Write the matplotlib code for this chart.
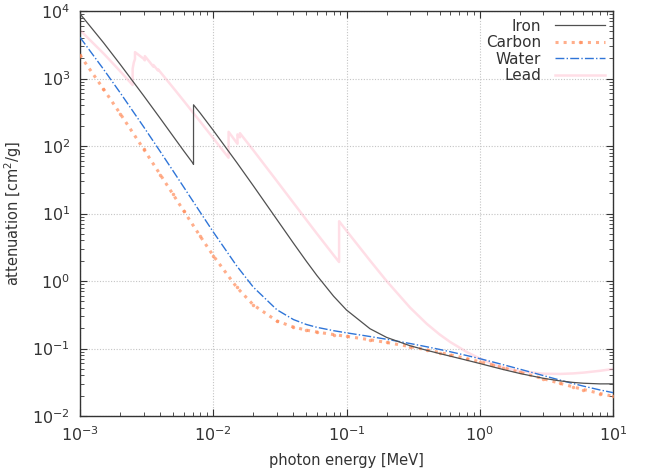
import matplotlib
matplotlib.use("Agg")
import matplotlib.pyplot as plt
from matplotlib.ticker import LogLocator, NullFormatter

# Mass attenuation coefficients [cm^2/g] vs photon energy [MeV] ------------------------------
ironE = [1e-3, 1.5e-3, 2e-3, 3e-3, 4e-3, 5e-3, 6e-3, 7e-3, 7.112e-3, 7.112e-3, 8e-3, 1e-2,
         1.5e-2, 2e-2, 3e-2, 4e-2, 5e-2, 6e-2, 8e-2, 0.1, 0.15, 0.2, 0.3, 0.4, 0.5, 0.6,
         0.8, 1.0, 1.25, 1.5, 2.0, 3.0, 4.0, 5.0, 6.0, 8.0, 10.0]
ironMu = [9085, 3399, 1626, 557.6, 256.7, 139.5, 84.84, 56.38, 53.3, 407.6, 305.6, 170.6,
          57.08, 25.68, 8.176, 3.629, 1.958, 1.205, 0.5952, 0.3717, 0.1964, 0.146, 0.1099,
          0.094, 0.08414, 0.07704, 0.06699, 0.05995, 0.0535, 0.04883, 0.04265, 0.03621,
          0.03312, 0.03146, 0.03057, 0.02991, 0.02994]

commonE = [1e-3, 1.5e-3, 2e-3, 3e-3, 4e-3, 5e-3, 6e-3, 8e-3, 1e-2, 1.5e-2, 2e-2, 3e-2,
           4e-2, 5e-2, 6e-2, 8e-2, 0.1, 0.15, 0.2, 0.3, 0.4, 0.5, 0.6, 0.8, 1.0, 1.25,
           1.5, 2.0, 3.0, 4.0, 5.0, 6.0, 8.0, 10.0]
carbonMu = [2211, 700.2, 302.6, 90.33, 37.78, 19.12, 10.95, 4.576, 2.373, 0.8071, 0.442,
            0.2562, 0.2076, 0.1871, 0.1753, 0.161, 0.1514, 0.1347, 0.1229, 0.1066, 0.09546,
            0.08715, 0.08058, 0.07076, 0.06361, 0.0569, 0.05179, 0.04442, 0.03562, 0.03047,
            0.02708, 0.02469, 0.02154, 0.01959]
waterMu = [4078, 1376, 617.3, 192.9, 82.78, 42.58, 24.64, 10.37, 5.329, 1.673, 0.8096,
           0.3756, 0.2683, 0.2269, 0.2059, 0.1837, 0.1707, 0.1505, 0.137, 0.1186, 0.1061,
           0.09687, 0.08956, 0.07865, 0.07072, 0.06323, 0.05754, 0.04942, 0.03969, 0.03403,
           0.03031, 0.0277, 0.02429, 0.02219]

leadE = [1e-3, 1.5e-3, 2e-3, 2.484e-3, 2.484e-3, 2.534e-3, 2.586e-3, 2.586e-3, 3e-3,
         3.066e-3, 3.066e-3, 3.301e-3, 3.554e-3, 3.554e-3, 3.699e-3, 3.851e-3, 3.851e-3,
         4e-3, 5e-3, 6e-3, 8e-3, 1e-2, 1.3035e-2, 1.3035e-2, 1.5e-2, 1.52e-2, 1.52e-2,
         1.553e-2, 1.586e-2, 1.586e-2, 2e-2, 3e-2, 4e-2, 5e-2, 6e-2, 8e-2, 8.8e-2, 8.8e-2,
         0.1, 0.15, 0.2, 0.3, 0.4, 0.5, 0.6, 0.8, 1.0, 1.25, 1.5, 2.0, 3.0, 4.0, 5.0, 6.0,
         8.0, 10.0]
leadMu = [5210, 2356, 1285, 800.6, 1397, 1726, 1944, 2458, 1965, 1857, 2146, 1796, 1496,
          1585, 1442, 1311, 1368, 1251, 730.4, 467.2, 228.7, 130.6, 67.01, 162.1, 111.6,
          107.8, 148.5, 141.6, 134.4, 154.8, 86.36, 30.32, 14.36, 8.041, 5.021, 2.419, 1.91,
          7.683, 5.549, 2.014, 0.9985, 0.4031, 0.2323, 0.1614, 0.1248, 0.0887, 0.07102,
          0.05876, 0.05222, 0.04606, 0.04234, 0.04197, 0.04272, 0.04391, 0.04675, 0.04972]

xTicks = [1e-3, 1e-2, 1e-1, 1e0, 1e1]
xTickLabels = ['$10^{-3}$', '$10^{-2}$', '$10^{-1}$', '$10^{0}$', '$10^{1}$']
yTicks = [1e-2, 1e-1, 1e0, 1e1, 1e2, 1e3, 1e4]
yTickLabels = ['$10^{-2}$', '$10^{-1}$', '$10^{0}$', '$10^{1}$', '$10^{2}$', '$10^{3}$', '$10^{4}$']
# ---------------------------------------------------------------------------------------------

fig = plt.figure(figsize=(6.46, 4.74), dpi=100)
ax = fig.add_axes([80/646, 58/474, 533/646, 405/474])

ax.plot(ironE, ironMu, '-', color='#505050', lw=0.9, label='Iron', zorder=4)
ax.plot(commonE, carbonMu, ':', color='#ff8c5a', lw=2.2, alpha=0.7,
        marker='o', markersize=2.5, markeredgewidth=0, label='Carbon', zorder=3)
ax.plot(commonE, waterMu, '-.', color='#2f75d8', lw=1.0, label='Water', zorder=3)
ax.plot(leadE, leadMu, '-', color='#ffb6c8', lw=1.8, alpha=0.45, label='Lead', zorder=2)

ax.set_xscale('log')
ax.set_yscale('log')
ax.set_xlim(1e-3, 10)
ax.set_ylim(1e-2, 1e4)

ax.set_xticks(xTicks)
ax.set_xticklabels(xTickLabels)
ax.set_yticks(yTicks)
ax.set_yticklabels(yTickLabels)
for axis in (ax.xaxis, ax.yaxis):
    axis.set_minor_locator(LogLocator(base=10, subs=range(2, 10), numticks=20))
    axis.set_minor_formatter(NullFormatter())

ax.tick_params(which='both', direction='in', top=True, right=True, color='#333333')
ax.tick_params(which='major', length=5, labelsize=11.5, labelcolor='#333333', pad=7)
ax.tick_params(which='minor', length=3, labelbottom=False, labelleft=False)
ax.grid(True, which='major', linestyle=(0, (1, 1.5)), color='#c4c4c4', lw=0.8)
for s in ax.spines.values():
    s.set_color('#333333')
    s.set_linewidth(1.0)

ax.set_xlabel('photon energy [MeV]', fontsize=10.5, color='#333333', labelpad=6)
ax.set_ylabel('attenuation [cm$^2$/g]', fontsize=10.5, color='#333333', labelpad=6)

leg = ax.legend(loc='upper right', frameon=False, markerfirst=False, fontsize=11,
                handlelength=3.3, labelspacing=0.1, borderaxespad=0.1, handletextpad=0.9)
for t in leg.get_texts():
    t.set_ha('right')
    t.set_color('#333333')
leg._legend_box.align = 'right'

fig.savefig('out.png', dpi=100)
